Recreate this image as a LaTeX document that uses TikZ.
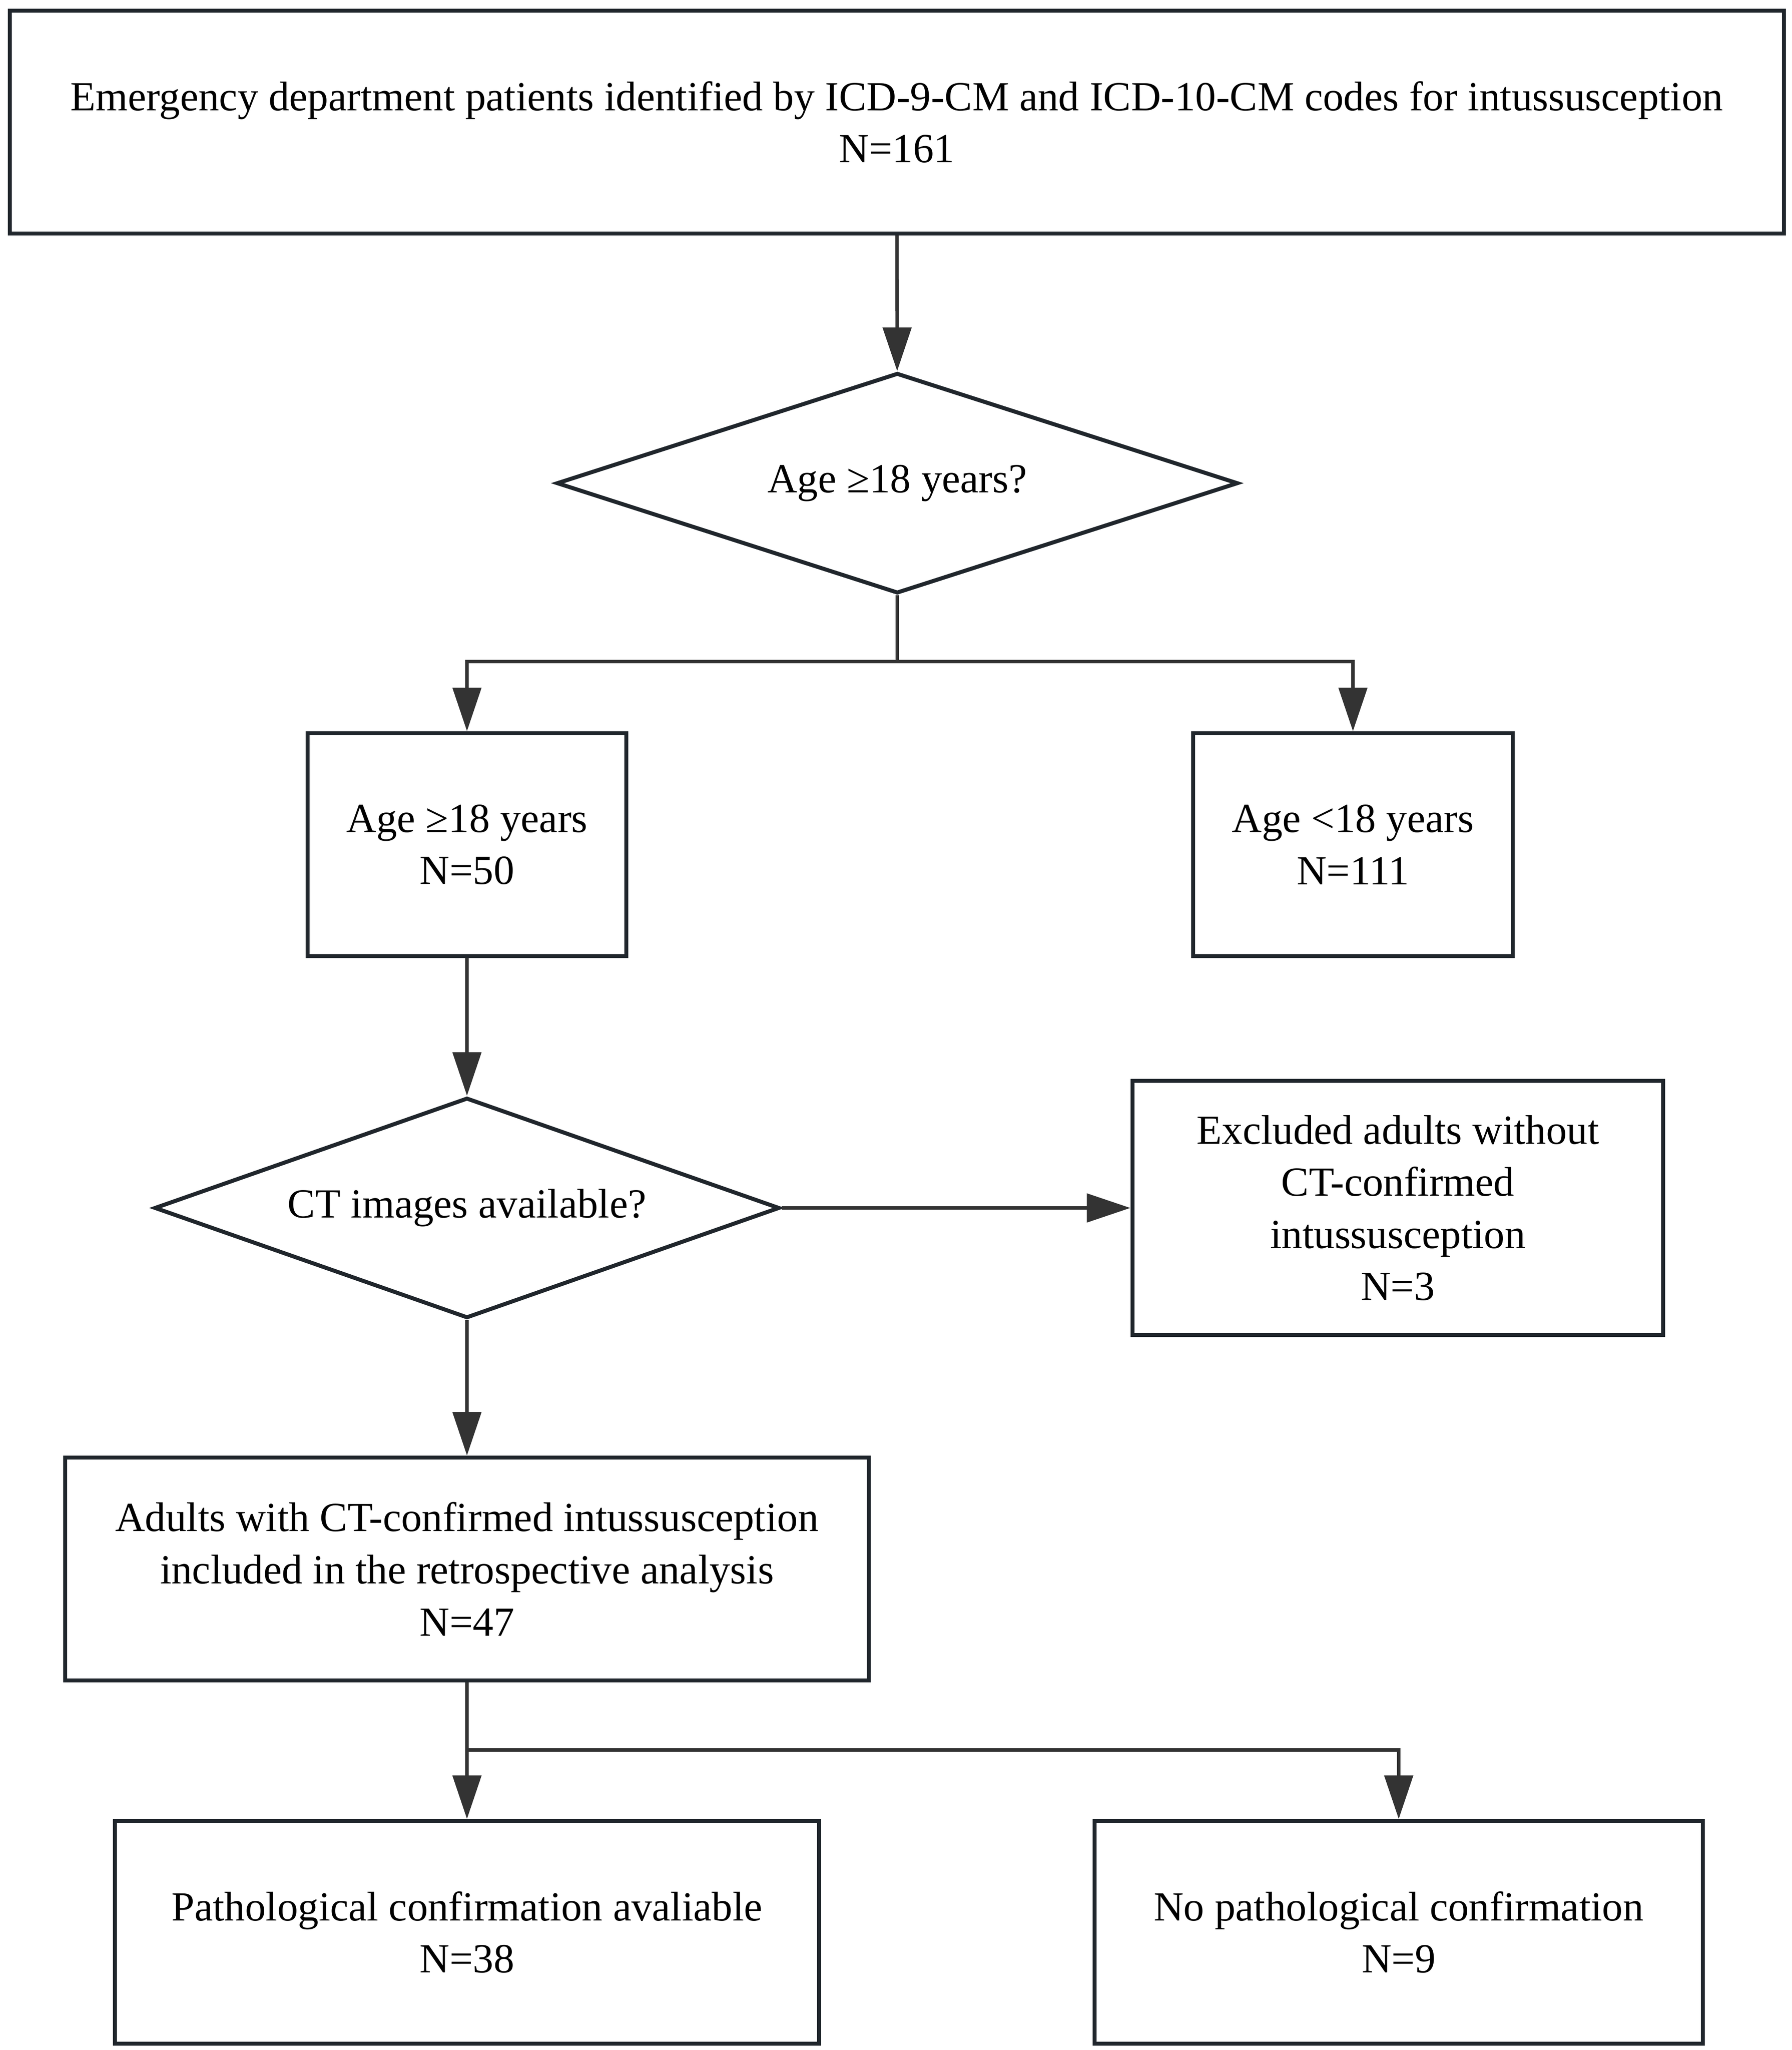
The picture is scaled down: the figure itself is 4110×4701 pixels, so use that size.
\documentclass[tikz,border=0pt]{standalone}
\usepackage{fontspec}
\setmainfont{Liberation Serif}
\usetikzlibrary{shapes.geometric,arrows.meta}
\definecolor{boxline}{HTML}{20262C}
\definecolor{arrowcol}{HTML}{333333}
\begin{document}
\begin{tikzpicture}[x=0.01cm,y=-0.01cm,
	box/.style={draw=boxline,line width=2.6pt,rectangle,align=center,inner sep=0pt,
		font=\fontsize{27}{34}\selectfont},
	question/.style={draw=boxline,line width=2.6pt,diamond,inner sep=0pt,
		font=\fontsize{27}{34}\selectfont},
	link/.style={draw=arrowcol,line width=2.3pt},
	arr/.style={link,-{Triangle[length=1cm,width=0.65cm]}}]
	\useasboundingbox (0,0) rectangle (4110,4701);
	\node[box,minimum width=40.67cm,minimum height=5.11cm] (ed) at (2057,280)
		{Emergency department patients identified by ICD-9-CM and ICD-10-CM codes for intussusception\\N=161};
	\node[question,aspect=3.09,minimum width=15.62cm,minimum height=5.05cm] (age) at (2058,1108) {Age ≥18 years?};
	\node[box,minimum width=7.30cm,minimum height=5.11cm] (adult) at (1071,1937) {Age ≥18 years\\N=50};
	\node[box,minimum width=7.33cm,minimum height=5.11cm] (child) at (3103,1937) {Age <18 years\\N=111};
	\node[question,aspect=2.84,minimum width=14.33cm,minimum height=5.05cm] (ct) at (1071,2770) {CT images available?};
	\node[box,minimum width=12.17cm,minimum height=5.83cm] (excl) at (3206,2770)
		{Excluded adults without\\CT-confirmed\\intussusception\\N=3};
	\node[box,minimum width=18.42cm,minimum height=5.11cm] (incl) at (1071,3598)
		{Adults with CT-confirmed intussusception\\included in the retrospective analysis\\N=47};
	\node[box,minimum width=16.14cm,minimum height=5.10cm] (path) at (1071,4431)
		{Pathological confirmation avaliable\\N=38};
	\node[box,minimum width=13.94cm,minimum height=5.10cm] (nopath) at (3208,4431)
		{No pathological confirmation\\N=9};
	\coordinate (split1) at (2058,1517);
	\coordinate (split2) at (1071,4013);
	\draw[arr] (ed) -- (age);
	\draw[link] (age) -- (split1);
	\draw[arr] (split1) -| (adult);
	\draw[arr] (split1) -| (child);
	\draw[arr] (adult) -- (ct);
	\draw[arr] (ct) -- (excl);
	\draw[arr] (ct) -- (incl);
	\draw[link] (incl) -- (split2);
	\draw[arr] (split2) -- (path);
	\draw[arr] (split2) -| (nopath);
\end{tikzpicture}
\end{document}
